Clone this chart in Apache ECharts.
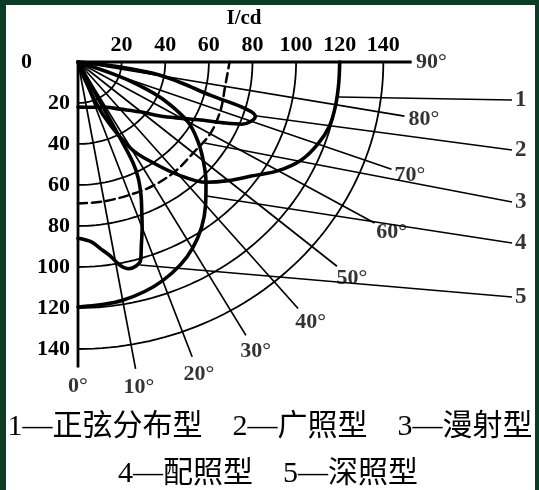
<!DOCTYPE html>
<html><head><meta charset="utf-8">
<script src="https://cdn.jsdelivr.net/npm/echarts@6/dist/echarts.min.js"></script>
<style>html,body{margin:0;padding:0;background:#fff}#c{width:539px;height:490px}</style>
</head><body><div id="c"></div>
<script>
// ---- data ----
const radiusTicks = [20, 40, 60, 80, 100, 120, 140];
const angleTicks = [0, 10, 20, 30, 40, 50, 60, 70, 80, 90];
const radialLength = [149, 152, 153, 154, 157, 155, 157, 153, 152, 153];
const curveNumbers = ['1', '2', '3', '4', '5'];
const curveNames = ['正弦分布型', '广照型', '漫射型', '配照型', '深照型'];
// luminous intensity curves: [angle (deg from nadir), intensity (cd)]
const sineCurve = [[0,0],[20,9],[24,28],[30,49],[35,60],[40,72],[45,83],[50,90],[55,97],[60,106],[65,113],[70,117],[75,119.5],[80,120],[85,120],[90,120]];
const wideCurve = [[0,22],[20,23.5],[30,25.5],[40,30],[50,38],[55,46],[60,55],[63,62],[66,73],[68,81],[70,84.5],[72,85.5],[73.5,80],[75,63],[78,48],[80.5,37],[82,25],[84,10],[90,0]];
const diffuseCurve = [[0,69],[10,69],[20,69],[30,69.5],[40,69.5],[50,69],[60,70],[70,69.5],[80,68.5],[90,69.5]];
const standardCurve = [[0,119.5],[10,118],[20,113.5],[30,105],[40,91],[45,83],[50,75],[55,67],[60,58],[65,43],[68,30],[70,18],[72,0]];
const deepCurve = [[0,86],[4,88],[7,92.5],[9,96],[11,101],[13,103.5],[15,103],[16.5,101],[18,94],[20,86],[22,78],[24,71],[26,63],[27.2,55],[27.5,40],[27.5,20],[27.5,0]];
// leader lines: start point on each curve [angle, intensity], end height (cd) at right
const leaderFrom = [[81.9,120.8],[72.1,85.4],[55.7,70.2],[42,88],[16,103]];
const leaderToY = [18.5, 42.9, 68.3, 88.3, 114.6];
const leaderToX = 199;

// ---- helpers ----
const rad = d => d * Math.PI / 180;
const toXY = (a, r) => [r * Math.sin(rad(a)), r * Math.cos(rad(a))];
const conv = arr => arr.map(p => toXY(p[0], p[1]));

const series = [];
const base = {type:'line', showSymbol:false, symbol:'none', silent:true, animation:false, clip:false};
// arcs
radiusTicks.forEach(r => {
  const d = [];
  for (let a = 0; a <= 90; a += 1.5) d.push(toXY(a, r));
  series.push(Object.assign({}, base, {data:d, lineStyle:{color:'#000', width:1.8}, z:2}));
});
// radials
angleTicks.forEach((a, i) => {
  const w = (a === 0 || a === 90) ? 2.8 : 1.7;
  series.push(Object.assign({}, base, {data:[[0,0], toXY(a, radialLength[i])], lineStyle:{color:'#000', width:w}, z:2}));
});
// angle labels
series.push({type:'scatter', silent:true, animation:false, symbolSize:0, clip:false, z:5,
  data: angleTicks.map((a, i) => ({value: toXY(a, radialLength[i] + 9), name: a + '°'})),
  label:{show:true, position:'inside', formatter:'{b}', color:'#000', fontSize:22, fontWeight:'bold', fontFamily:'Liberation Serif'}
});
// curves
const curves = [sineCurve, wideCurve, diffuseCurve, standardCurve, deepCurve];
curves.forEach((c, i) => {
  series.push(Object.assign({}, base, {name: curveNames[i], data: conv(c), smooth:0.35,
    lineStyle:{color:'#000', width: i === 2 ? 2.5 : 3.6, type: i === 2 ? [9,5] : 'solid', cap:'round', join:'round'}, z:4}));
});
// leaders
leaderFrom.forEach((p, i) => {
  series.push(Object.assign({}, base, {data:[toXY(p[0], p[1]), [leaderToX, leaderToY[i]]], lineStyle:{color:'#000', width:1.5}, z:3}));
});
series.push({type:'scatter', silent:true, animation:false, symbolSize:0, clip:false, z:5,
  data: curveNumbers.map((n, i) => ({value:[leaderToX, leaderToY[i]], name:n})),
  label:{show:true, position:'right', distance:3, formatter:'{b}', color:'#000', fontSize:23, fontWeight:'bold', fontFamily:'Liberation Serif'}
});

const legendRow1 = curveNumbers.slice(0,3).map((n,i) => n + '—' + curveNames[i]).join('　');
const legendRow2 = curveNumbers.slice(3).map((n,i) => n + '—' + curveNames[i+3]).join('　');

const chart = echarts.init(document.getElementById('c'), null, {renderer:'canvas'});
chart.setOption({
  backgroundColor:'#fff',
  animation:false,
  grid:{left:78, top:62, width:460, height:348.5},
  xAxis:{type:'value', position:'top', min:0, max:210, interval:20,
    axisLine:{show:false}, axisTick:{show:false}, splitLine:{show:false},
    axisLabel:{margin:6, color:'#000', fontSize:22, fontWeight:'bold', fontFamily:'Liberation Serif',
      formatter: v => (v >= 20 && v <= 140) ? String(v) : ''}},
  yAxis:{type:'value', inverse:true, min:0, max:170, interval:20,
    axisLine:{show:false}, axisTick:{show:false}, splitLine:{show:false},
    axisLabel:{margin:8, color:'#000', fontSize:22, fontWeight:'bold', fontFamily:'Liberation Serif',
      formatter: v => v === 0 ? '{z|0}' : ((v <= 140) ? String(v) : ''),
      rich:{z:{padding:[0,38,0,0], color:'#000', fontSize:22, fontWeight:'bold', fontFamily:'Liberation Serif'}}}},
  series: series,
  graphic:[
    {type:'rect', shape:{x:0, y:0, width:6, height:490}, style:{fill:'#0c3b26'}, z:100},
    {type:'rect', shape:{x:0, y:0, width:539, height:5}, style:{fill:'#0c3b26'}, z:100},
    {type:'rect', shape:{x:535, y:0, width:4, height:490}, style:{fill:'#0c3b26'}, z:100},
    {type:'text', x:244, y:19, style:{text:'I/cd', fill:'#000', font:'bold 21px "Liberation Serif"', textAlign:'center', textVerticalAlign:'middle'}, z:100},
    {type:'text', x:270, y:427, style:{text:legendRow1, fill:'#000', font:'30px "Liberation Serif", "Noto Sans CJK SC"', textAlign:'center', textVerticalAlign:'middle'}, z:100},
    {type:'text', x:268, y:474, style:{text:legendRow2, fill:'#000', font:'30px "Liberation Serif", "Noto Sans CJK SC"', textAlign:'center', textVerticalAlign:'middle'}, z:100}
  ]
});
</script></body></html>
